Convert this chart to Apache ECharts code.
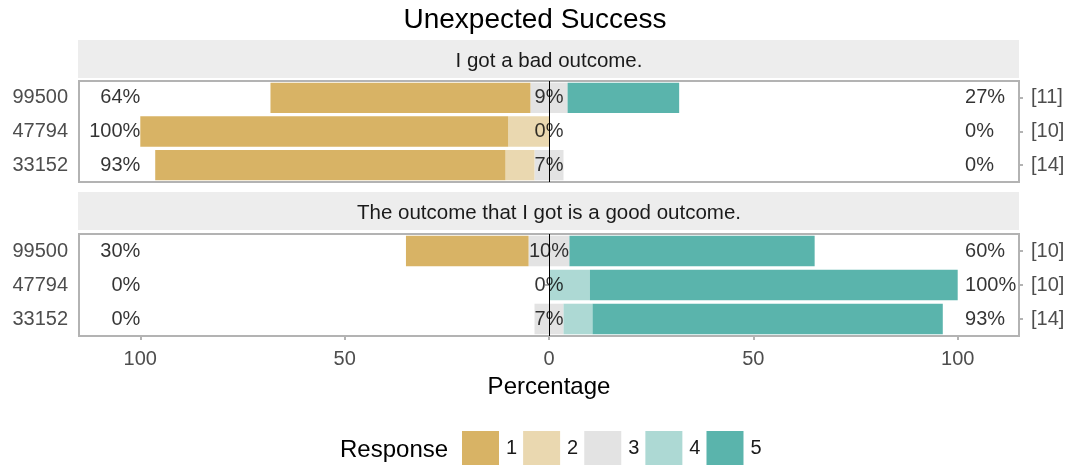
<!DOCTYPE html>
<html>
<head>
<meta charset="utf-8">
<script src="https://cdn.jsdelivr.net/npm/echarts@6/dist/echarts.min.js"></script>
<style>
  html, body { margin: 0; padding: 0; background: #fff; }
  #chart { width: 1070px; height: 465px; }
</style>
</head>
<body>
<div id="chart"></div>
<script>
// 数据：两个问题，每个问题三个条目，五个回答等级（百分比）
const questions = ['I got a bad outcome.', 'The outcome that I got is a good outcome.'];
const items = ['99500', '47794', '33152'];
const levels = ['1', '2', '3', '4', '5'];
const badCounts = ['[11]', '[10]', '[14]'];
const goodCounts = ['[10]', '[10]', '[14]'];

const bad1 = [63.6, 90.0, 85.7];
const bad2 = [0, 10.0, 7.1];
const bad3 = [9.1, 0, 7.1];
const bad4 = [0, 0, 0];
const bad5 = [27.3, 0, 0];

const good1 = [30.0, 0, 0];
const good2 = [0, 0, 0];
const good3 = [10.0, 0, 7.1];
const good4 = [0, 10.0, 7.1];
const good5 = [60.0, 90.0, 85.7];

const xTicks = [-100, -50, 0, 50, 100];

// 样式
const colors = ['#D8B365', '#EAD8B0', '#E3E3E3', '#ADD9D4', '#5AB4AC'];
const font = 'Liberation Sans, Arial, sans-serif';
const panels = [
  { levels: [bad1, bad2, bad3, bad4, bad5], counts: badCounts, top: 81, height: 101, strip: 40 },
  { levels: [good1, good2, good3, good4, good5], counts: goodCounts, top: 234, height: 102, strip: 192 }
];

const chart = echarts.init(document.getElementById('chart'));

const grid = [], xAxis = [], yAxis = [], series = [], graphic = [];

panels.forEach((p, i) => {
  grid.push({
    left: 79, width: 940, top: p.top, height: p.height,
    show: true, backgroundColor: '#fff', borderColor: '#B3B3B3', borderWidth: 2
  });
  xAxis.push({
    type: 'value', gridIndex: i, min: -115, max: 115,
    axisLine: { show: false },
    splitLine: { show: false },
    axisTick: { show: i === 1, customValues: xTicks, length: 4, lineStyle: { color: '#B3B3B3', width: 2 } },
    axisLabel: {
      show: i === 1, customValues: xTicks, margin: 13,
      color: '#4D4D4D', fontSize: 20, fontFamily: font,
      formatter: v => String(Math.abs(v))
    },
    name: i === 1 ? 'Percentage' : '', nameLocation: 'middle', nameGap: 39,
    nameTextStyle: { color: '#000', fontSize: 24, fontFamily: font }
  });
  yAxis.push({
    type: 'category', gridIndex: i, data: items, inverse: true, position: 'left',
    axisLine: { show: false },
    axisTick: { show: true, length: 4, alignWithLabel: true, lineStyle: { color: '#B3B3B3', width: 2 } },
    axisLabel: { color: '#4D4D4D', fontSize: 20, fontFamily: font, margin: 11 }
  });
  yAxis.push({
    type: 'category', gridIndex: i, data: p.counts, inverse: true, position: 'right',
    axisLine: { show: false },
    axisTick: { show: true, length: 4, alignWithLabel: true, lineStyle: { color: '#B3B3B3', width: 2 } },
    axisLabel: { color: '#4D4D4D', fontSize: 20, fontFamily: font, margin: 12 }
  });

  const [l1, l2, l3, l4, l5] = p.levels;
  const stack = 'likert' + i;
  const bar = (name, data, color) => ({
    type: 'bar', name, stack, xAxisIndex: i, yAxisIndex: i * 2,
    data, barCategoryGap: '10%', itemStyle: { color }, silent: true
  });
  // 中性项分两半放在0两侧，低分往左堆叠，高分往右堆叠
  series.push(bar('3', l3.map(v => -v / 2), colors[2]));
  series.push(bar('3', l3.map(v => v / 2), colors[2]));
  series.push(bar('2', l2.map(v => -v), colors[1]));
  series.push(bar('4', l4, colors[3]));
  series.push(bar('1', l1.map(v => -v), colors[0]));
  series.push(bar('5', l5, colors[4]));

  // 百分比标签：低分合计、中性、高分合计
  const low = items.map((_, r) => Math.round(l1[r] + l2[r]));
  const mid = items.map((_, r) => Math.round(l3[r]));
  const high = items.map((_, r) => Math.round(l4[r] + l5[r]));
  const labelData = [];
  items.forEach((_, r) => {
    labelData.push({ value: [-100, r], name: low[r] + '%', label: { align: 'right' } });
    labelData.push({ value: [0, r], name: mid[r] + '%' });
    labelData.push({ value: [101.8, r], name: high[r] + '%', label: { align: 'left' } });
  });
  series.push({
    type: 'scatter', name: 'labels' + i, xAxisIndex: i, yAxisIndex: i * 2,
    symbolSize: 0, silent: true, data: labelData,
    label: { show: true, position: 'inside', formatter: '{b}', color: '#000', fontSize: 20, fontFamily: font },
    markLine: {
      silent: true, symbol: ['none', 'none'], label: { show: false },
      lineStyle: { color: '#000', width: 1, type: 'solid' },
      data: [{ xAxis: 0 }]
    }
  });

  // 分面标题条
  graphic.push({
    type: 'rect', shape: { x: 78, y: p.strip, width: 941, height: 38 },
    style: { fill: '#EDEDED' }, silent: true
  });
  graphic.push({
    type: 'text', x: 549, y: p.strip + 21,
    style: { text: questions[i], fill: '#1A1A1A', fontSize: 20.5, fontFamily: font, align: 'center', verticalAlign: 'middle' },
    silent: true
  });
});

graphic.push({
  type: 'text', x: 340, y: 450,
  style: { text: 'Response', fill: '#000', fontSize: 24, fontFamily: font, align: 'left', verticalAlign: 'middle' },
  silent: true
});

const option = {
  animation: false,
  title: {
    text: 'Unexpected Success', left: 'center', top: 1,
    textStyle: { color: '#000', fontSize: 28, fontWeight: 'normal', fontFamily: font }
  },
  legend: {
    data: levels, left: 462, top: 431, orient: 'horizontal', padding: 0,
    icon: 'rect', itemWidth: 37, itemHeight: 35, itemGap: 6,
    textStyle: { color: '#1A1A1A', fontSize: 20, fontFamily: font, padding: [0, 0, 0, 2] },
    selectedMode: false
  },
  grid, xAxis, yAxis, series, graphic
};

chart.setOption(option);
</script>
</body>
</html>
